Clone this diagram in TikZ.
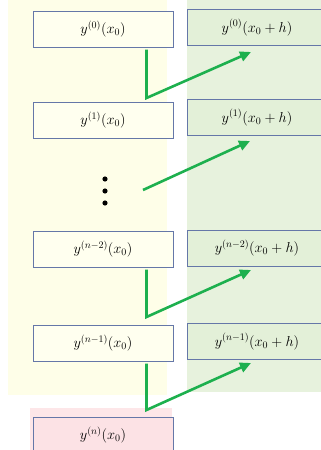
\documentclass[tikz,border=0pt]{standalone}
\usetikzlibrary{arrows.meta}
\definecolor{bgyellow}{HTML}{FEFEE8}
\definecolor{bggreen}{HTML}{E7F2DD}
\definecolor{bgpink}{HTML}{FDE6E8}
\definecolor{boxyellow}{HTML}{FFFFEF}
\definecolor{boxgreen}{HTML}{E3F0D8}
\definecolor{boxpink}{HTML}{FCE2E5}
\definecolor{boxline}{HTML}{6577A8}
\definecolor{arrowgreen}{HTML}{1DB04E}
\begin{document}
\begin{tikzpicture}[x=1pt, y=-1pt,
  box/.style={draw=boxline, line width=1pt, fill=#1, minimum width=140pt,
              minimum height=36pt, inner sep=0pt, text centered,
              font=\fontsize{14}{16}\selectfont},
  line/.style={-{Triangle[length=11pt,width=10pt]}, line width=2.6pt,
               draw=arrowgreen, line join=miter}
]
\clip (0,0) rectangle (321,450);
\fill[bgyellow] (8,0) rectangle (167,395);
\fill[bggreen] (187,0) rectangle (321,392);
\fill[bgpink] (30,408) rectangle (172,452);
\node[box=boxyellow] (l0) at (103,29)  {$y^{(0)}(x_0)$};
\node[box=boxyellow] (l1) at (103,120) {$y^{(1)}(x_0)$};
\node[box=boxyellow] (l2) at (103,249) {$y^{(n-2)}(x_0)$};
\node[box=boxyellow] (l3) at (103,343) {$y^{(n-1)}(x_0)$};
\node[box=boxpink]   (ln) at (103,435) {$y^{(n)}(x_0)$};
\node[box=boxgreen]  (r0) at (257,27.5)  {$y^{(0)}(x_0+h)$};
\node[box=boxgreen]  (r1) at (257,117.5) {$y^{(1)}(x_0+h)$};
\node[box=boxgreen]  (r2) at (257,248)   {$y^{(n-2)}(x_0+h)$};
\node[box=boxgreen]  (r3) at (257,341.5) {$y^{(n-1)}(x_0+h)$};
\foreach \y in {179,191,203} \fill (105,\y) circle (2.6pt);
\coordinate (c0) at (146.5,98);
\coordinate (c2) at (146.5,317);
\coordinate (c3) at (146.5,410);
\coordinate (d1) at (143,190);
\coordinate (t0) at (251,52);
\coordinate (t1) at (250,141);
\coordinate (t2) at (251,270);
\coordinate (t3) at (251,363);
\draw[line] ([yshift=-2pt]l0.south -| c0) -- (c0) -- (t0);
\draw[line] (d1) -- (t1);
\draw[line] ([yshift=-2pt]l2.south -| c2) -- (c2) -- (t2);
\draw[line] ([yshift=-2pt]l3.south -| c3) -- (c3) -- (t3);
\end{tikzpicture}
\end{document}
